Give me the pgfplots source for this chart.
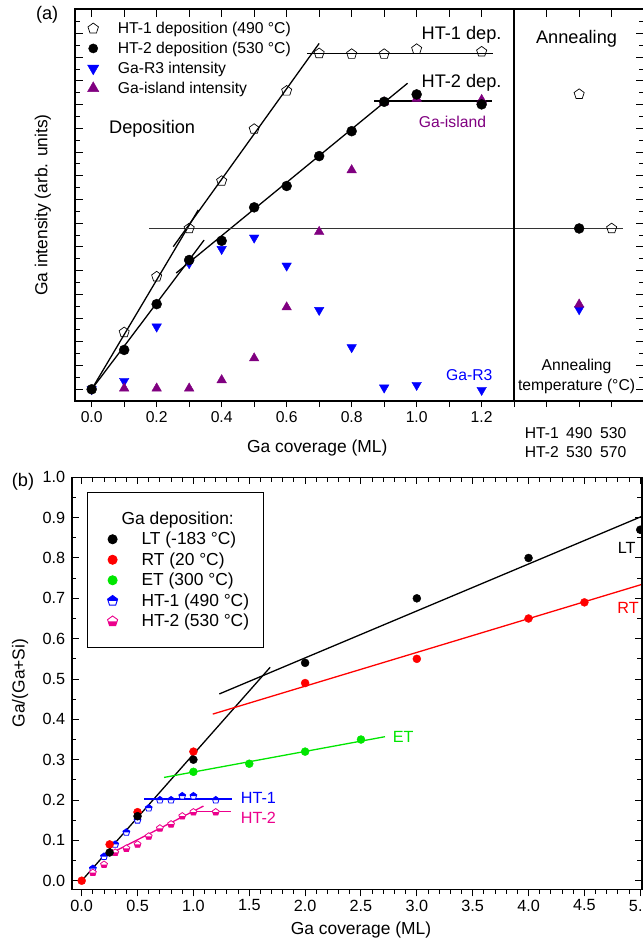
\documentclass[border=0pt]{standalone}
\usepackage{fontspec}
\setmainfont{Liberation Sans}
\usepackage{pgfplots}
\pgfplotsset{compat=1.18}
\definecolor{gapurple}{RGB}{128,0,128}
\definecolor{etgreen}{RGB}{0,230,0}

\newcommand\fs{\fontsize{15.7bp}{18bp}\selectfont}
\newcommand\fm{\fontsize{16.2bp}{19bp}\selectfont}
\newcommand\fl{\fontsize{17.4bp}{20bp}\selectfont}
\newcommand\fh{\fontsize{18.2bp}{21bp}\selectfont}

% pentagon outline
\newcommand\pentpath{%
  \pgfpathmoveto{\pgfpointpolar{90}{\pgfplotmarksize}}%
  \pgfpathlineto{\pgfpointpolar{162}{\pgfplotmarksize}}%
  \pgfpathlineto{\pgfpointpolar{234}{\pgfplotmarksize}}%
  \pgfpathlineto{\pgfpointpolar{306}{\pgfplotmarksize}}%
  \pgfpathlineto{\pgfpointpolar{18}{\pgfplotmarksize}}%
  \pgfpathclose}
% pentagon, upper half filled
\pgfdeclareplotmark{pentup}{%
  \begin{pgfscope}\pgfsetfillcolor{white}\pentpath\pgfusepath{fill}\end{pgfscope}%
  \pgfpathmoveto{\pgfpoint{-0.851\pgfplotmarksize}{0pt}}%
  \pgfpathlineto{\pgfpointpolar{162}{\pgfplotmarksize}}%
  \pgfpathlineto{\pgfpointpolar{90}{\pgfplotmarksize}}%
  \pgfpathlineto{\pgfpointpolar{18}{\pgfplotmarksize}}%
  \pgfpathlineto{\pgfpoint{0.851\pgfplotmarksize}{0pt}}%
  \pgfpathclose\pgfusepath{fill}%
  \pentpath\pgfusepath{stroke}}
% pentagon, lower half filled
\pgfdeclareplotmark{pentdown}{%
  \begin{pgfscope}\pgfsetfillcolor{white}\pentpath\pgfusepath{fill}\end{pgfscope}%
  \pgfpathmoveto{\pgfpoint{-0.851\pgfplotmarksize}{0pt}}%
  \pgfpathlineto{\pgfpointpolar{234}{\pgfplotmarksize}}%
  \pgfpathlineto{\pgfpointpolar{306}{\pgfplotmarksize}}%
  \pgfpathlineto{\pgfpoint{0.851\pgfplotmarksize}{0pt}}%
  \pgfpathclose\pgfusepath{fill}%
  \pentpath\pgfusepath{stroke}}

\pgfplotsset{
  panel/.style={scale only axis, clip=false,
    axis line style={line width=1.6bp},
    tick style={line width=1bp, black},
    major tick length=7bp, minor tick length=4.5bp},
  fitline/.style={black, line width=1.3bp, forget plot},
}

\begin{document}
\begin{tikzpicture}
\useasboundingbox (0bp,0bp) rectangle (643bp,-943bp);

% ---------------- panel (a) ----------------
\begin{axis}[panel, at={(75bp,-9bp)}, anchor=north west,
  width=568.5bp, height=392bp,
  xmin=-0.0513, xmax=1.698, ymin=-0.493, ymax=16.03,
  xtick={0,0.1,0.2,0.3,0.4,0.5,0.6,0.7,0.8,0.9,1.0,1.1,1.2,1.3,1.4,1.5,1.6},
  xticklabels={}, xtick pos=top,
  ytick={0,1,...,15}, minor ytick={-0.5,0.5,1.5,...,15.5}, yticklabels={},
  major tick length=8bp, minor tick length=5bp,
  legend cell align=left,
  legend style={at={(0.0218,0.967)}, anchor=north west, draw=none, fill=none,
    inner sep=0pt, row sep=7bp, font=\fs,
    /tikz/every odd column/.append style={column sep=19bp},
    nodes={inner sep=0pt}}]

\addlegendimage{only marks, mark=pentagon, mark size=5.5bp, mark options={draw=black, fill=white, line width=0.7bp}}
\addlegendentry{HT-1 deposition (490 °C)}
\addlegendimage{only marks, mark=*, mark size=4.6bp, black}
\addlegendentry{HT-2 deposition (530 °C)}
\addlegendimage{only marks, mark=triangle*, mark size=6.5bp, blue, mark options={rotate=180}}
\addlegendentry{Ga-R3 intensity}
\addlegendimage{only marks, mark=triangle*, mark size=6.5bp, gapurple}
\addlegendentry{Ga-island intensity}

% fitted lines
\addplot[fitline] coordinates {(0,0) (0.328,7.56)};
\addplot[fitline] coordinates {(0.251,6.01) (0.700,14.58)};
\addplot[fitline] coordinates {(0.663,14.16) (1.234,14.16)};
\addplot[fitline] coordinates {(0,0) (0.346,6.29)};
\addplot[fitline] coordinates {(0.26,4.9) (0.972,12.9)};
\addplot[fitline] coordinates {(0.869,12.15) (1.231,12.15)};
\addplot[black!80, line width=0.8bp, forget plot] coordinates {(0.177,6.78) (1.634,6.78)};
\addplot[black, line width=1.6bp, forget plot] coordinates {(1.3,-0.493) (1.3,16.03)};

% Ga-R3 intensity
\addplot[only marks, mark=triangle*, mark size=5.5bp, blue, mark options={rotate=180}, forget plot]
  coordinates {(0,0) (0.1,0.35) (0.2,2.64) (0.3,5.31) (0.4,5.91) (0.5,6.39) (0.6,5.21)
    (0.7,3.34) (0.8,1.77) (0.9,0.07) (1.0,0.18) (1.2,-0.03) (1.5,3.37)};
% Ga-island intensity
\addplot[only marks, mark=triangle*, mark size=5.5bp, gapurple, forget plot]
  coordinates {(0.1,0.04) (0.2,0.04) (0.3,0.04) (0.4,0.39) (0.5,1.31) (0.6,3.46)
    (0.7,6.64) (0.8,9.24) (0.9,12.1) (1.0,12.25) (1.2,12.2) (1.5,3.58)};
% HT-1 deposition
\addplot[only marks, mark=pentagon, mark size=5.3bp, mark options={draw=black, fill=white, line width=0.7bp}, forget plot]
  coordinates {(0.1,2.40) (0.2,4.75) (0.3,6.78) (0.4,8.78) (0.5,10.97) (0.6,12.58)
    (0.7,14.16) (0.8,14.13) (0.9,14.13) (1.0,14.34) (1.2,14.23) (1.5,12.44) (1.6,6.78)};
% HT-2 deposition
\addplot[only marks, mark=*, mark size=5bp, black, forget plot]
  coordinates {(0,0) (0.1,1.66) (0.2,3.59) (0.3,5.45) (0.4,6.26) (0.5,7.67) (0.6,8.57)
    (0.7,9.83) (0.8,10.88) (0.9,12.12) (1.0,12.43) (1.2,12.01) (1.5,6.78)};

\node[font=\fh] at (axis cs:-0.137,15.77) {(a)};
\node[font=\fh] at (axis cs:0.186,11.0) {Deposition};
\node[font=\fh, anchor=east] at (axis cs:1.272,14.93) {HT-1 dep.};
\node[font=\fh, anchor=east] at (axis cs:1.272,12.9) {HT-2 dep.};
\node[font=\fs, text=gapurple] at (axis cs:1.11,11.28) {Ga-island};
\node[font=\fs, text=blue] at (axis cs:1.162,0.60) {Ga-R3};
\node[font=\fh] at (axis cs:1.492,14.76) {Annealing};
\node[font=\fs] at (axis cs:1.492,0.95) {Annealing};
\node[font=\fs] at (axis cs:1.492,0.11) {temperature (°C)};
\node[font=\fs] at (axis cs:1.385,-1.84) {HT-1};
\node[font=\fs] at (axis cs:1.5,-1.84) {490};
\node[font=\fs] at (axis cs:1.605,-1.84) {530};
\node[font=\fs] at (axis cs:1.385,-2.64) {HT-2};
\node[font=\fs] at (axis cs:1.5,-2.64) {530};
\node[font=\fs] at (axis cs:1.605,-2.64) {570};
\node[font=\fl] at (axis cs:0.694,-2.47) {Ga coverage (ML)};
\node[font=\fl, rotate=90] at (axis cs:-0.15,7.77) {Ga intensity (arb. units)};
\end{axis}

% bottom ticks of (a), pointing outward
\begin{axis}[panel, at={(75bp,-9bp)}, anchor=north west,
  width=568.5bp, height=392bp,
  xmin=-0.0513, xmax=1.698, ymin=-0.493, ymax=16.03,
  tick align=outside, xtick pos=bottom,
  xtick={0,0.2,0.4,0.6,0.8,1.0,1.2},
  xticklabels={{\fs 0.0},{\fs 0.2},{\fs 0.4},{\fs 0.6},{\fs 0.8},{\fs 1.0},{\fs 1.2}},
  minor xtick={0.1,0.3,0.5,0.7,0.9,1.1,1.3,1.4,1.5,1.6},
  major tick length=6bp, minor tick length=6bp,
  xticklabel shift=1bp, ytick=\empty]
\end{axis}

% ---------------- panel (b) ----------------
\begin{axis}[panel, at={(71.7bp,-477.3bp)}, anchor=north west,
  width=570bp, height=412bp,
  xmin=-0.0895, xmax=5.013, ymin=-0.0213, ymax=1.0,
  xtick={0,0.5,1,1.5,2,2.5,3,3.5,4,4.5,5}, minor x tick num=4,
  xticklabels={}, xtick pos=top,
  ytick={0,0.1,0.2,0.3,0.4,0.5,0.6,0.7,0.8,0.9,1.0}, minor y tick num=1,
  yticklabels={{\fm 0.0},{\fm 0.1},{\fm 0.2},{\fm 0.3},{\fm 0.4},{\fm 0.5},{\fm 0.6},{\fm 0.7},{\fm 0.8},{\fm 0.9},{\fm 1.0}},
  yticklabel style={xshift=-3bp},
  legend cell align=left,
  legend style={at={(0.0263,0.9636)}, anchor=north west, draw=black, line width=0.8bp,
    fill=white, inner xsep=17bp, inner ysep=19bp, row sep=6.4bp, font=\fl,
    /tikz/every odd column/.append style={column sep=23.5bp},
    nodes={inner sep=0pt}}]

\addlegendimage{empty legend}
\addlegendentry{\hspace*{-20bp}Ga deposition:}
\addlegendimage{only marks, mark=*, mark size=4.6bp, black}
\addlegendentry{LT (-183 °C)}
\addlegendimage{only marks, mark=*, mark size=4.6bp, red}
\addlegendentry{RT (20 °C)}
\addlegendimage{only marks, mark=*, mark size=4.6bp, etgreen}
\addlegendentry{ET (300 °C)}
\addlegendimage{only marks, mark=pentup, mark size=5.3bp, mark options={draw=blue, fill=blue, line width=0.9bp}}
\addlegendentry{HT-1 (490 °C)\hspace*{-3bp}}
\addlegendimage{only marks, mark=pentdown, mark size=5.3bp, mark options={draw=magenta, fill=magenta, line width=0.9bp}}
\addlegendentry{HT-2 (530 °C)\hspace*{-3bp}}

% fitted lines
\addplot[fitline] coordinates {(0,0) (1.687,0.529)};
\addplot[fitline] coordinates {(1.232,0.463) (5.013,0.903)};
\addplot[fitline, red] coordinates {(1.173,0.413) (5.013,0.7344)};
\addplot[fitline, etgreen] coordinates {(0.737,0.256) (2.715,0.357)};
\addplot[fitline, blue] coordinates {(0.56,0.2025) (1.348,0.2025)};
\addplot[fitline, magenta] coordinates {(0.22,0.062) (1.09,0.185)};
\addplot[fitline, magenta] coordinates {(1.0,0.171) (1.334,0.171)};

% HT-1
\addplot[only marks, mark=pentup, mark size=3.6bp, mark options={draw=blue, fill=blue, line width=0.8bp}, forget plot]
  coordinates {(0.1,0.03) (0.2,0.06) (0.3,0.09) (0.4,0.12) (0.5,0.15) (0.6,0.18)
    (0.7,0.20) (0.8,0.20) (0.9,0.21) (1.0,0.21) (1.2,0.20)};
% HT-2
\addplot[only marks, mark=pentdown, mark size=3.6bp, mark options={draw=magenta, fill=magenta, line width=0.8bp}, forget plot]
  coordinates {(0.1,0.02) (0.2,0.04) (0.3,0.07) (0.4,0.08) (0.5,0.09) (0.6,0.11)
    (0.7,0.13) (0.8,0.14) (0.9,0.16) (1.0,0.17) (1.2,0.17)};
% RT
\addplot[only marks, mark=*, mark size=4bp, red, forget plot]
  coordinates {(0,0) (0.25,0.09) (0.5,0.17) (1.0,0.32) (2.0,0.49) (3.0,0.55) (4.0,0.65) (4.5,0.69)};
% LT
\addplot[only marks, mark=*, mark size=4bp, black, forget plot]
  coordinates {(0.25,0.07) (0.5,0.16) (1.0,0.30) (2.0,0.54) (3.0,0.70) (4.0,0.80) (5.0,0.87)};
% ET
\addplot[only marks, mark=*, mark size=4bp, etgreen, forget plot]
  coordinates {(1.0,0.27) (1.5,0.29) (2.0,0.32) (2.5,0.35)};

\node[font=\fm] at (axis cs:4.879,0.824) {LT};
\node[font=\fm, text=red] at (axis cs:4.891,0.675) {RT};
\node[font=\fm, text=etgreen, anchor=west] at (axis cs:2.754,0.3555) {ET};
\node[font=\fm, text=blue, anchor=west] at (axis cs:1.393,0.2058) {HT-1};
\node[font=\fm, text=magenta, anchor=west] at (axis cs:1.393,0.1547) {HT-2};
\node[font=\fh] at (axis cs:-0.525,0.989) {(b)};
\node[font=\fl] at (axis cs:2.5,-0.122) {Ga coverage (ML)};
\node[font=\fl, rotate=90] at (axis cs:-0.552,0.49) {Ga/(Ga+Si)};
\end{axis}

% bottom ticks of (b), pointing outward
\begin{axis}[panel, at={(71.7bp,-477.3bp)}, anchor=north west,
  width=570bp, height=412bp,
  xmin=-0.0895, xmax=5.013, ymin=-0.0213, ymax=1.0,
  tick align=outside, xtick pos=bottom,
  xtick={0,0.5,1,1.5,2,2.5,3,3.5,4,4.5,5}, minor x tick num=4,
  xticklabels={{\fm 0.0},{\fm 0.5},{\fm 1.0},{\fm 1.5},{\fm 2.0},{\fm 2.5},{\fm 3.0},{\fm 3.5},{\fm 4.0},{\fm 4.5},{\fm 5.0}},
  xticklabel shift=0bp, ytick=\empty]
\end{axis}
\end{tikzpicture}
\end{document}
